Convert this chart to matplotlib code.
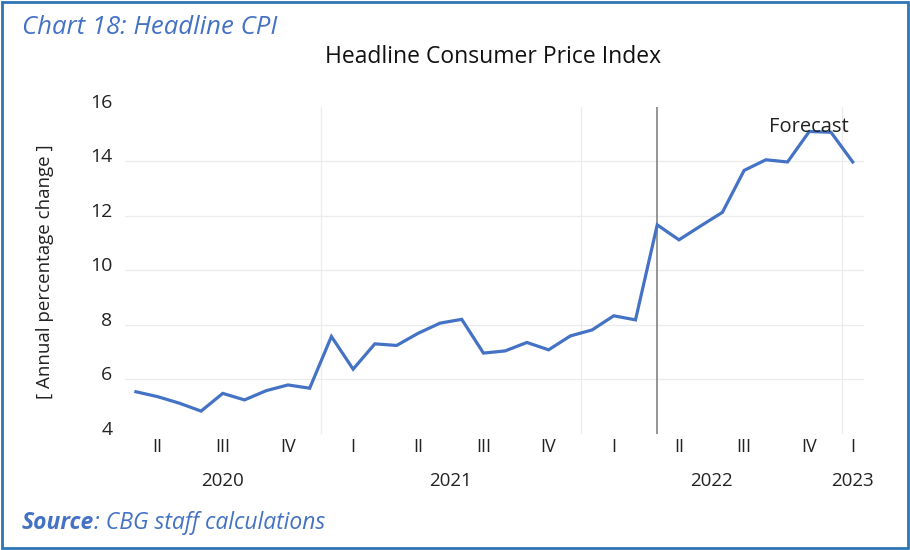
import matplotlib
matplotlib.use("Agg")
import matplotlib.pyplot as plt
import matplotlib.transforms as mtransforms
from matplotlib.patches import Rectangle

# monthly headline CPI, Apr 2020 - Jan 2023 (annual % change)
months = ["2020-04", "2020-05", "2020-06", "2020-07", "2020-08", "2020-09",
          "2020-10", "2020-11", "2020-12",
          "2021-01", "2021-02", "2021-03", "2021-04", "2021-05", "2021-06",
          "2021-07", "2021-08", "2021-09", "2021-10", "2021-11", "2021-12",
          "2022-01", "2022-02", "2022-03", "2022-04", "2022-05", "2022-06",
          "2022-07", "2022-08", "2022-09", "2022-10", "2022-11", "2022-12",
          "2023-01"]
cpi = [5.54, 5.36, 5.12, 4.83, 5.48, 5.24, 5.58, 5.79, 5.67,
       7.57, 6.37, 7.30, 7.24, 7.69, 8.06, 8.20, 6.96, 7.04, 7.35, 7.08, 7.59,
       7.81, 8.33, 8.18, 11.67, 11.12, 11.63, 12.13, 13.67, 14.06, 13.98,
       15.10, 15.07, 13.98]
forecast_start = "2022-04"
quarter_names = ["I", "II", "III", "IV"]
y_ticks = [4, 6, 8, 10, 12, 14, 16]

line_blue = "#4472C4"
head_blue = "#4472C4"
border_blue = "#2E75B6"
font = "Open Sans"
txt = "#222222"

x = list(range(len(months)))
years = [int(m[:4]) for m in months]
quarters = [(int(m[5:]) - 1) // 3 for m in months]

fig = plt.figure(figsize=(9.1, 5.5), dpi=100)
ax = fig.add_axes([0.1374, 0.2115, 0.9490 - 0.1374, 0.8055 - 0.2115])

ax.plot(x, cpi, color=line_blue, lw=2.3, solid_joinstyle="miter", zorder=3)

ax.set_xlim(-0.5, len(months) - 0.5)
ax.set_ylim(4, 16)
ax.set_yticks(y_ticks)
ax.set_yticklabels([str(t) for t in y_ticks], fontsize=14, family=font, color=txt)
ax.tick_params(axis="y", length=0, pad=9)
# Excel draws the value labels a bit above their gridlines
off = mtransforms.ScaledTranslation(0, 6 / 100, fig.dpi_scale_trans)
for lab in ax.get_yticklabels():
    lab.set_transform(lab.get_transform() + off)

for t in y_ticks[1:-1]:
    ax.axhline(t, color="#ECECEC", lw=0.9, zorder=1)

# year boundaries
for i in range(1, len(months)):
    if years[i] != years[i - 1]:
        ax.axvline(i - 0.5, color="#ECECEC", lw=0.9, zorder=1)

# forecast marker
fi = months.index(forecast_start)
ax.axvline(fi, color="#8C8C8C", lw=1.3, zorder=2)
ax.text(31.0, 15.25, "Forecast", fontsize=14.5, family=font, color=txt,
        ha="center", va="center", zorder=4)

for s in ax.spines.values():
    s.set_visible(False)

# quarter and year labels under the axis
ax.set_xticks([])
trans = mtransforms.blended_transform_factory(ax.transData, fig.transFigure)
groups = {}
for i in x:
    groups.setdefault((years[i], quarters[i]), []).append(i)
for (yr, q), idx in groups.items():
    ax.text(sum(idx) / len(idx), 1 - 447 / 550, quarter_names[q], transform=trans,
            ha="center", va="center", fontsize=13, family=font, color=txt)
ygroups = {}
for i in x:
    ygroups.setdefault(years[i], []).append(i)
for yr, idx in ygroups.items():
    ax.text(sum(idx) / len(idx), 1 - 481 / 550, str(yr), transform=trans,
            ha="center", va="center", fontsize=13.5, family=font, color=txt)

fig.text(45 / 910, 1 - 272 / 550, "[ Annual percentage change ]", rotation=90,
         ha="center", va="center", fontsize=13.5, family=font, color=txt)

fig.text(493 / 910, 1 - 57 / 550, "Headline Consumer Price Index", ha="center",
         va="center", fontsize=16.5, family=font, color="#111111")
fig.text(22 / 910, 1 - 28 / 550, "Chart 18: Headline CPI", ha="left", va="center",
         fontsize=18.5, family=font, style="italic", color=head_blue)
src = fig.text(22 / 910, 1 - 523 / 550, "Source", ha="left", va="center",
               fontsize=16.5, family=font, style="italic", weight="bold", color=head_blue)
fig.canvas.draw()
bb = src.get_window_extent()
fig.text(bb.x1 / 910, 1 - 523 / 550, ": CBG staff calculations", ha="left", va="center",
         fontsize=16.5, family=font, style="italic", color=head_blue)

fig.patches.append(Rectangle((0.002, 0.003), 0.996, 0.994, transform=fig.transFigure,
                             fill=False, edgecolor=border_blue, lw=2))

fig.savefig("out.png", dpi=100)
